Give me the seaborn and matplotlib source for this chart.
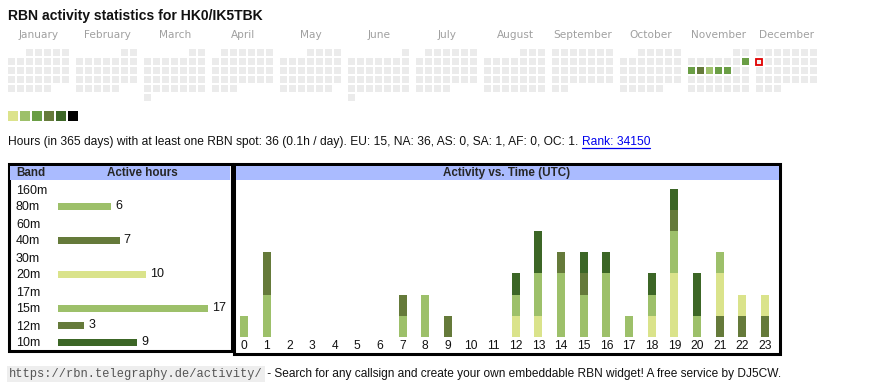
import datetime as dt
import matplotlib
matplotlib.use("Agg")
import matplotlib.pyplot as plt
from matplotlib.patches import Rectangle
import seaborn as sns

# ---------------- data ----------------
title = "RBN activity statistics for HK0/IK5TBK"
months = ["January", "February", "March", "April", "May", "June", "July",
          "August", "September", "October", "November", "December"]
year = 2025
active_days = ["2025-11-09", "2025-11-10", "2025-11-11", "2025-11-12", "2025-11-13", "2025-11-14"]
active_levels = [2, 2, 3, 1, 2, 2]
today = "2025-12-08"
level_colors = ["#dce38c", "#9dc06a", "#6a9e45", "#667b3b", "#3d6727", "#000000"]

summary = ("Hours (in 365 days) with at least one RBN spot: 36 (0.1h / day). "
           "EU: 15, NA: 36, AS: 0, SA: 1, AF: 0, OC: 1. ")
rank_text = "Rank: 34150"

bands = ["160m", "80m", "60m", "40m", "30m", "20m", "17m", "15m", "12m", "10m"]
band_hours = [0, 6, 0, 7, 0, 10, 0, 17, 3, 9]
band_colors = ["#9dc06a", "#9dc06a", "#9dc06a", "#657a3a", "#657a3a",
               "#dae38b", "#dae38b", "#9dc06a", "#657a3a", "#3c6626"]

hour_labels = [str(h) for h in range(24)]
hours_80m = [1, 2, 0, 0, 0, 0, 0, 1, 2, 0, 0, 0, 0, 0, 0, 0, 0, 0, 0, 0, 0, 0, 0, 0]
hours_40m = [0, 2, 0, 0, 0, 0, 0, 1, 0, 1, 0, 0, 0, 0, 0, 0, 0, 0, 0, 0, 0, 1, 1, 1]
hours_20m = [0, 0, 0, 0, 0, 0, 0, 0, 0, 0, 0, 0, 1, 1, 0, 0, 0, 0, 1, 3, 0, 2, 1, 1]
hours_15m = [0, 0, 0, 0, 0, 0, 0, 0, 0, 0, 0, 0, 1, 2, 3, 2, 3, 1, 1, 2, 1, 1, 0, 0]
hours_12m = [0, 0, 0, 0, 0, 0, 0, 0, 0, 0, 0, 0, 0, 0, 1, 1, 0, 0, 0, 1, 0, 0, 0, 0]
hours_10m = [0, 0, 0, 0, 0, 0, 0, 0, 0, 0, 0, 0, 1, 2, 0, 1, 1, 0, 1, 1, 2, 0, 0, 0]
stack_bands = ["80m", "40m", "20m", "15m", "12m", "10m"]
stack_values = [hours_80m, hours_40m, hours_20m, hours_15m, hours_12m, hours_10m]
stack_colors = ["#9dc06a", "#657a3a", "#dae38b", "#9dc06a", "#657a3a", "#3c6626"]

footer_url = "https://rbn.telegraphy.de/activity/"
footer_text = " - Search for any callsign and create your own embeddable RBN widget! A free service by DJ5CW."

# ---------------- figure ----------------
sns.set_style("white")
plt.rcParams["font.family"] = ["Liberation Sans", "DejaVu Sans"]
W, H = 870, 390
fig = plt.figure(figsize=(W / 100, H / 100), dpi=100)
bg = fig.add_axes([0, 0, 1, 1])
bg.set_xlim(0, W)
bg.set_ylim(H, 0)
bg.set_axis_off()


def rect(x0, y0, x1, y1):
    return [x0 / W, 1 - y1 / H, (x1 - x0) / W, (y1 - y0) / H]


PX = 0.72  # points per pixel

# title
bg.text(8, 16, title, fontsize=14 * PX, fontweight="bold", va="center", ha="left", color="#111")

# calendar
active_map = {d: l for d, l in zip(active_days, active_levels)}
for m in range(12):
    mx = 8 + m * 68
    bg.text(mx + 31, 35, months[m], fontsize=10.5 * PX, color="#a0a0a0", ha="center",
            va="center", family="DejaVu Sans")
    first = dt.date(year, m + 1, 1)
    d = first
    while d.month == m + 1:
        row = (d.day - 1 + first.weekday()) // 7
        col = d.weekday()
        x = mx + col * 9
        y = 49 + row * 9
        key = d.isoformat()
        if key == today:
            bg.add_patch(Rectangle((x + 0.5, y + 0.5), 6, 6, facecolor="#f4f4f4",
                                   edgecolor="#e00000", lw=1.3))
        else:
            fc = level_colors[active_map[key]] if key in active_map else "#ebebeb"
            bg.add_patch(Rectangle((x, y), 7, 7, facecolor=fc, edgecolor="none"))
        d += dt.timedelta(days=1)

# legend squares
for i, c in enumerate(level_colors):
    bg.add_patch(Rectangle((8 + i * 12, 111), 10, 10, facecolor=c, edgecolor="none"))

# summary line
t1 = bg.text(8, 142, summary, fontsize=12 * PX, va="center", ha="left", color="#111")
fig.canvas.draw()
r = fig.canvas.get_renderer()
ext = t1.get_window_extent(r)
xr = ext.x1
t2 = bg.text(xr, 142, rank_text, fontsize=12 * PX, va="center", ha="left", color="#0000ee")
fig.canvas.draw()
e2 = t2.get_window_extent(r)
bg.plot([e2.x0, e2.x1], [148, 148], color="#0000ee", lw=0.9)

# boxes and headers
bg.add_patch(Rectangle((9, 164), 223, 187, facecolor="white", edgecolor="black", lw=2.2, zorder=1))
bg.add_patch(Rectangle((234.5, 164), 546, 190, facecolor="white", edgecolor="black", lw=2.2, zorder=1))
bg.add_patch(Rectangle((10.5, 165.5), 220, 14.5, facecolor="#aabbff", edgecolor="none", zorder=2))
bg.add_patch(Rectangle((236, 165.5), 543, 14.5, facecolor="#aabbff", edgecolor="none", zorder=2))
bg.text(16, 173, "Band", fontsize=11.6 * PX, fontweight="bold", va="center", ha="left", zorder=3)
bg.text(142, 173, "Active hours", fontsize=11.6 * PX, fontweight="bold", va="center", ha="center", zorder=3)
bg.text(507, 173, "Activity vs. Time (UTC)", fontsize=11.6 * PX, fontweight="bold", va="center",
        ha="center", zorder=3)

# band bar chart
unit = 150 / 17
axb = fig.add_axes(rect(58, 180.5, 230, 350.5))
axb.patch.set_alpha(0)
sns.barplot(x=band_hours, y=bands, order=bands, hue=bands, hue_order=bands,
            palette=dict(zip(bands, band_colors)), legend=False, orient="h",
            saturation=1, width=7 / 17, errorbar=None, linewidth=0, edgecolor="none", ax=axb)
axb.set_xlim(0, (230 - 58) / unit)
axb.set_ylim(9.5, -0.5)
axb.set_xlabel("")
axb.set_ylabel("")
axb.set_xticks([])
sns.despine(ax=axb, left=True, bottom=True)
axb.tick_params(axis="y", length=0, pad=42 * PX, labelsize=12.5 * PX, labelcolor="#111")
for t in axb.get_yticklabels():
    t.set_ha("left")
for cont in axb.containers:
    vals = [p.get_width() for p in cont]
    axb.bar_label(cont, labels=[f"{int(v)}" if v > 0 else "" for v in vals],
                  padding=4 * PX, fontsize=12.5 * PX, color="#111")

# hourly stacked chart (cumulative overdraw)
axh = fig.add_axes(rect(232.7, 181, 776.3, 336.7))
axh.patch.set_alpha(0)
cums = []
run = [0] * 24
for vals in stack_values:
    run = [a + b for a, b in zip(run, vals)]
    cums.append(run)
for cum, col in reversed(list(zip(cums, stack_colors))):
    sns.barplot(x=hour_labels, y=cum, order=hour_labels, color=col, saturation=1,
                width=8 / 22.65, errorbar=None, linewidth=0, edgecolor="none", ax=axh)
axh.set_xlim(-0.5, 23.5)
axh.set_ylim(0, (336.7 - 181) / 21.1)
axh.set_xlabel("")
axh.set_ylabel("")
axh.set_yticks([])
sns.despine(ax=axh, left=True, bottom=True)
axh.tick_params(axis="x", length=0, pad=3 * PX, labelsize=12 * PX, labelcolor="#111")

# footer
f1 = bg.text(9, 374, footer_url, fontsize=12 * PX, family="Liberation Mono", color="#555",
             va="center", ha="left",
             bbox=dict(boxstyle="square,pad=0.15", facecolor="#eeeeee", edgecolor="none"))
fig.canvas.draw()
ef = f1.get_window_extent(r)
bg.text(ef.x1 + 1, 374, footer_text, fontsize=11.9 * PX, color="#111", va="center", ha="left",
        stretch="condensed")

fig.savefig("out.png", dpi=100)
